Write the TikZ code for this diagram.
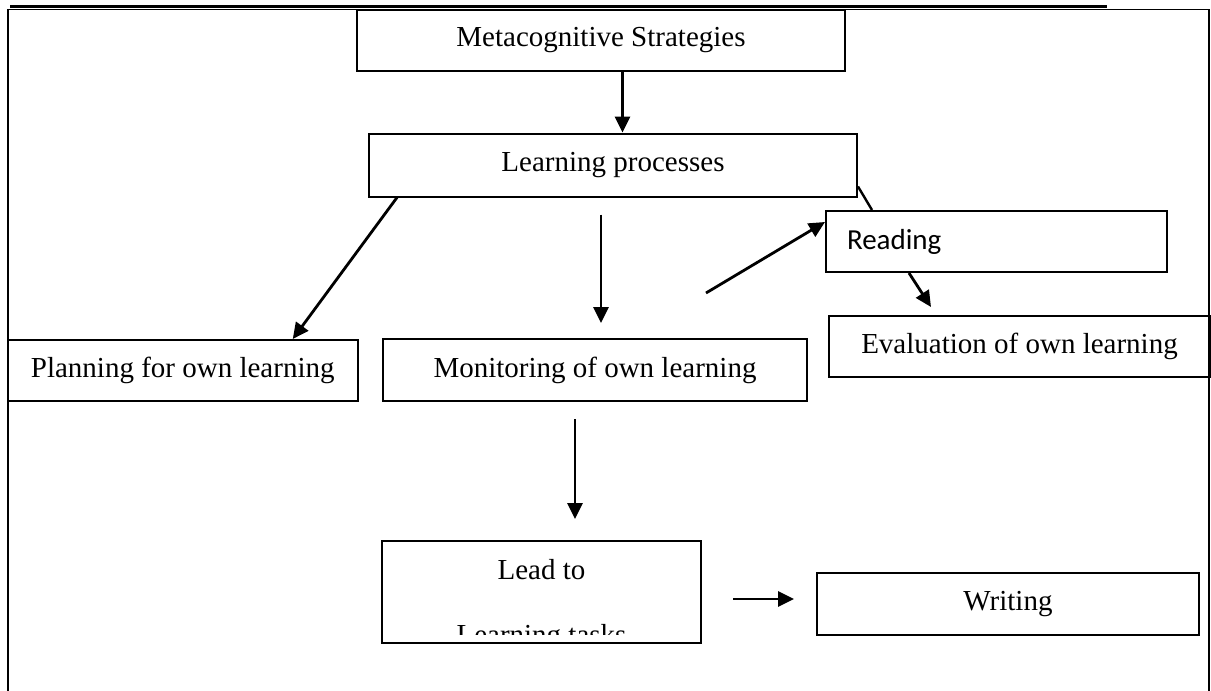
\documentclass[tikz,border=0pt]{standalone}
\usepackage{fontspec}
\setmainfont{Liberation Serif}
\newfontfamily\readfont{Carlito}
\usetikzlibrary{arrows.meta}

\tikzset{
    boxtext/.style={font=\fontsize{29}{34}\selectfont},
    stratbox/.style={draw, line width=2pt, inner sep=0pt, minimum height=61pt, boxtext},
    flowarrow/.style={line width=2.8pt, -{Triangle[length=16pt,width=15pt]}},
    flowline/.style={line width=2.4pt},
}

\begin{document}
\begin{tikzpicture}[x=1pt, y=-1pt]

    \useasboundingbox (0,0) rectangle (1211,691);

    \draw[line width=1.6pt] (8,691) -- (8,9.5) -- (1209,9.5) -- (1209,691);
    \draw[line width=2.6pt] (10,6.5) -- (1107,6.5);

    \coordinate (rdsrc) at (706,293);

    \node[stratbox, minimum width=488pt] (meta) at (601,40.5) {Metacognitive Strategies};
    \node[stratbox, minimum width=488pt, minimum height=63pt] (proc) at (613,165) {Learning processes};
    \node[stratbox, minimum width=341pt, text width=299pt, inner xsep=21pt, align=left,
        font=\readfont\fontsize{29}{34}\selectfont] (read) at (996.5,241.5) {Reading};
    \node[stratbox, minimum width=381pt] (eval) at (1019.5,346.5) {Evaluation of own learning};
    \node[stratbox, minimum width=350.5pt] (plan) at (182.75,370.5) {Planning for own learning};
    \node[stratbox, minimum width=424pt, minimum height=62pt] (moni) at (595,370) {Monitoring of own learning};
    \node[stratbox, minimum width=319pt, minimum height=102pt] (lead) at (541.5,592) {};
    \node[stratbox, minimum width=382pt, minimum height=62pt] (writ) at (1008,604) {Writing};

    \node[boxtext, anchor=base] (leadto) at (541.5,579) {Lead to};
    \begin{scope}
        \clip (lead.north west) rectangle ([yshift=10pt]lead.south east);
        \node[boxtext, anchor=base] (tasks) at (541.5,644) {Learning tasks};
    \end{scope}

    \draw[flowarrow] ([xshift=21.5pt]meta.south) -- ([xshift=21.5pt]meta.south |- proc.north);
    \draw[flowarrow] ([xshift=-216pt]proc.south) -- ([xshift=110pt]plan.north);
    \draw[flowarrow] ([xshift=-12pt,yshift=-17pt]proc.south) -- ([xshift=6pt,yshift=15pt]moni.north);
    \draw[flowarrow] (rdsrc) -- ([yshift=19.5pt]read.west);
    \draw[flowline] ([yshift=-21.5pt]proc.east) -- ([xshift=-124.5pt]read.north);
    \draw[flowarrow] ([xshift=-87.5pt]read.south) -- ([xshift=-88.5pt,yshift=8pt]eval.north);
    \draw[flowarrow] ([xshift=-20pt,yshift=-17pt]moni.south) -- ([xshift=33.5pt,yshift=21pt]lead.north);
    \draw[flowarrow] ([xshift=31pt,yshift=-7pt]lead.east) -- ([xshift=-22pt,yshift=5pt]writ.west);

\end{tikzpicture}
\end{document}
